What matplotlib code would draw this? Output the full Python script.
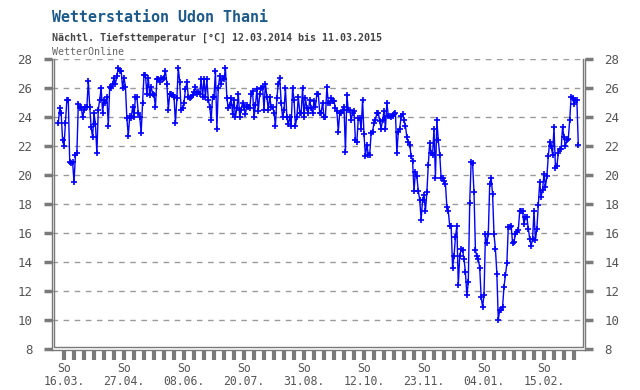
import matplotlib
matplotlib.use("Agg")
import matplotlib.pyplot as plt
import numpy as np

title = "Wetterstation Udon Thani"
subtitle = "Nächtl. Tiefsttemperatur [°C] 12.03.2014 bis 11.03.2015"
source = "WetterOnline"

# nightly minimum temperature, one value per day from 12.03.2014 to 11.03.2015
temps = [
    23.6, 24.6, 24.3, 22.4, 22.0, 23.6, 25.2, 25.2, 20.9, 20.8, 20.9, 19.5, 21.4, 21.5,
    24.9, 24.6, 24.7, 24.0, 24.5, 24.7, 24.7, 26.5, 24.7, 23.3, 22.6, 24.3, 23.5, 21.5,
    24.5, 25.2, 26.0, 24.3, 25.2, 25.0, 25.4, 23.4, 26.1, 26.0, 26.3, 26.7, 26.3, 26.8,
    27.4, 27.2, 27.2, 26.0, 26.7, 26.1, 23.9, 22.7, 24.1, 23.9, 24.7, 24.0, 25.4, 25.4,
    24.3, 24.0, 22.9, 25.0, 26.9, 26.9, 25.6, 26.7, 25.5, 26.1, 25.6, 25.5, 24.7, 26.6,
    26.6, 26.4, 26.7, 26.6, 26.7, 27.2, 26.3, 24.5, 25.6, 25.6, 25.5, 25.4, 23.6, 25.3,
    27.4, 26.4, 24.5, 24.6, 25.0, 25.9, 26.4, 25.4, 25.3, 25.4, 25.5, 25.7, 26.1, 25.6,
    25.7, 25.6, 26.6, 25.4, 26.6, 25.4, 26.6, 25.2, 24.7, 23.8, 25.4, 25.4, 27.2, 23.2,
    26.0, 26.8, 26.3, 26.7, 26.6, 27.4, 25.3, 24.6, 24.8, 25.3, 24.2, 25.2, 24.0, 24.6,
    25.6, 24.0, 24.5, 25.0, 24.7, 24.2, 24.8, 24.7, 24.6, 25.6, 25.8, 24.0, 24.8, 25.9,
    24.4, 25.6, 26.0, 26.1, 24.5, 26.3, 25.4, 24.5, 25.4, 24.7, 24.7, 24.3, 23.4, 25.3,
    26.3, 26.7, 25.0, 24.0, 24.5, 26.0, 24.0, 23.5, 24.0, 23.4, 26.0, 25.2, 23.4, 24.0,
    25.4, 24.3, 24.3, 26.0, 24.0, 25.3, 24.6, 24.3, 25.2, 24.6, 24.3, 25.1, 24.7, 25.6,
    25.6, 24.3, 24.3, 25.0, 24.0, 24.0, 26.1, 25.0, 25.0, 25.3, 25.1, 25.1, 24.6, 24.4,
    23.0, 24.3, 24.3, 24.5, 24.7, 21.6, 25.5, 24.5, 24.5, 23.8, 24.3, 24.4, 22.4, 22.3,
    23.9, 23.9, 23.2, 25.2, 22.8, 21.3, 22.1, 21.4, 21.4, 22.9, 23.0, 23.6, 23.8, 24.3,
    24.3, 23.7, 23.2, 23.8, 24.4, 23.2, 25.0, 24.1, 24.1, 24.0, 24.1, 24.2, 24.3, 21.5,
    23.0, 23.2, 24.1, 24.2, 23.8, 23.4, 22.6, 22.3, 22.1, 21.3, 21.0, 18.9, 20.2, 19.9,
    18.9, 18.3, 16.9, 18.3, 18.6, 17.5, 18.8, 20.7, 22.2, 21.5, 21.4, 23.2, 19.8, 23.8,
    22.4, 21.4, 19.8, 19.8, 19.6, 19.4, 17.8, 17.5, 16.5, 16.5, 13.6, 14.4, 15.7, 16.5,
    12.4, 14.4, 14.9, 14.8, 14.2, 13.3, 11.7, 12.6, 18.1, 20.9, 20.8, 18.8, 14.8, 14.4,
    14.2, 13.6, 11.6, 10.9, 11.7, 15.9, 15.3, 15.9, 19.4, 19.8, 18.7, 15.9, 14.9, 13.2,
    10.0, 10.7, 10.7, 10.9, 12.3, 13.1, 13.9, 16.4, 16.4, 16.5, 15.3, 15.4, 15.9, 16.1,
    16.2, 17.5, 17.5, 17.5, 16.6, 17.1, 17.1, 16.3, 15.6, 15.1, 15.6, 17.5, 15.5, 16.3,
    17.9, 19.5, 18.5, 19.0, 20.1, 19.2, 19.9, 21.3, 22.3, 22.0, 21.4, 23.3, 20.5, 20.6,
    21.5, 21.8, 21.8, 23.3, 22.6, 22.0, 22.4, 22.5, 23.8, 25.4, 25.3, 24.9, 25.2, 25.2,
    22.1,
]
days = list(range(len(temps)))

# x tick positions: Sundays (day index), labelled every 6 weeks
sunday_days = list(range(4, 365, 7))
label_days = [4, 46, 88, 130, 172, 214, 256, 298, 340]
tick_labels = ["So\n16.03.", "So\n27.04.", "So\n08.06.", "So\n20.07.", "So\n31.08.",
               "So\n12.10.", "So\n23.11.", "So\n04.01.", "So\n15.02."]
y_ticks = [8, 10, 12, 14, 16, 18, 20, 22, 24, 26, 28]

W, H = 640, 390
fig = plt.figure(figsize=(W / 100, H / 100), dpi=100)
fig.patch.set_facecolor("white")

left_px, right_px, top_px, bot_px = 52, 585, 59, 350
ax = fig.add_axes([left_px / W, 1 - bot_px / H, (right_px - left_px) / W, (bot_px - top_px) / H])
ax.set_xlim(-4.41, 368.7)
ax.set_ylim(8 - 1 / 14.5, 28)

mono = "DejaVu Sans Mono"
gray = "#7a7a7a"
txtgray = "#555555"

for y in y_ticks[1:]:
    ax.axhline(y, color="#9a9a9a", lw=1.0, ls=(0, (4, 4)), zorder=1)

ax.plot(days, temps, color="#0000ff", lw=1.0, marker="+", ms=4.5, mew=1.2, zorder=3)

ax.spines["top"].set_visible(False)
for s in ["left", "right", "bottom"]:
    ax.spines[s].set_color(gray)
    ax.spines[s].set_linewidth(1.0)

# inner frame lines (double border)
dx = 2.0 / (right_px - left_px)
dy = 3.0 / (bot_px - top_px)
ax.plot([dx, dx, 1 - dx, 1 - dx], [1, dy, dy, 1], transform=ax.transAxes,
        color=gray, lw=1.0, clip_on=False, zorder=4)

ax.set_yticks(y_ticks)
ax.set_yticklabels([str(v) for v in y_ticks])
ax.tick_params(axis="y", which="major", left=True, right=True, labelleft=True, labelright=True,
               direction="out", length=6, width=2.5, color=gray, labelcolor=txtgray,
               labelsize=9, pad=8)
ax.set_xticks(label_days)
ax.set_xticklabels(tick_labels, linespacing=0.95)
ax.set_xticks(sunday_days, minor=True)
ax.tick_params(axis="x", which="both", direction="out", length=7, width=3, color=gray,
               labelcolor=txtgray, labelsize=8.3, pad=2)
for lbl in ax.get_xticklabels() + ax.get_yticklabels():
    lbl.set_family(mono)

fig.text(52 / W, 1 - 18 / H, title, family=mono, fontweight="bold", fontsize=10.8,
         color="#1d5a8a", va="center", ha="left")
fig.text(52 / W, 1 - 38 / H, subtitle, family=mono, fontweight="bold", fontsize=7.2,
         color="#444444", va="center", ha="left")
fig.text(52 / W, 1 - 52 / H, source, family=mono, fontsize=7.2,
         color="#666666", va="center", ha="left")

fig.savefig("out.png", dpi=100, facecolor="white")
